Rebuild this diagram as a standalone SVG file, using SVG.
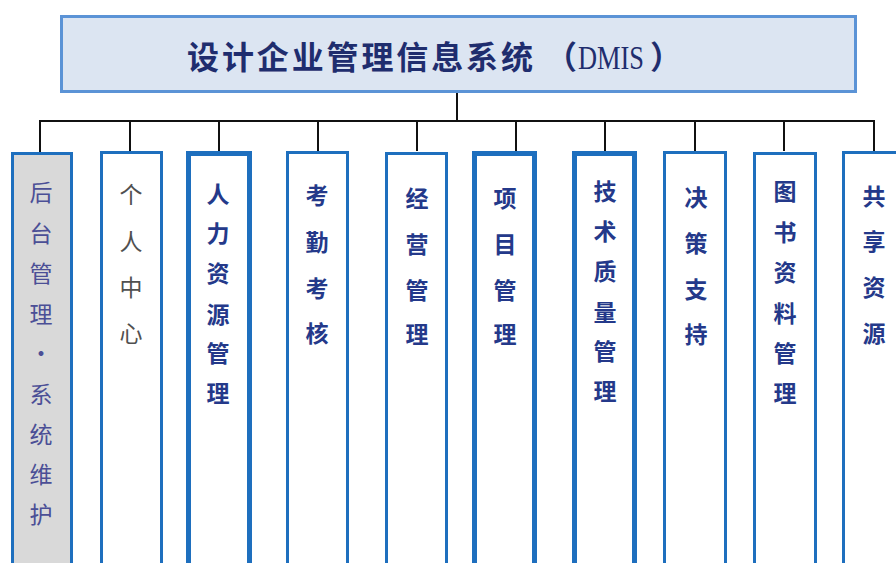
<svg xmlns="http://www.w3.org/2000/svg" width="896" height="563" viewBox="0 0 896 563">
<style>
.title{font-family:"Noto Sans CJK SC","Liberation Sans",sans-serif;font-weight:bold;font-size:32px;fill:#1f2d6e}
.lat{font-family:"Liberation Serif",serif;font-size:34px;font-weight:normal;fill:#1f2d6e}
.box{fill:#ffffff;stroke:#1e6fbe;stroke-width:3}
.thick{stroke-width:5}
.gray{fill:#d9d9d9}
.lbl{font-family:"Noto Sans CJK SC","Liberation Sans",sans-serif;font-size:23px;font-weight:bold;fill:#24398a;text-anchor:middle;dominant-baseline:central}
.lr{font-weight:normal;font-size:23px}
.c1{fill:#4b4f96}
.c2{fill:#505050}
.conn{stroke:#111111;stroke-width:2;fill:none}
</style>
<g id="title">
<rect x="61.5" y="16.5" width="794" height="75" fill="#dce5f2" stroke="#5b93d6" stroke-width="3"/>
<text x="187" y="69" class="title" textLength="346" lengthAdjust="spacing">设计企业管理信息系统</text>
<text y="69" class="title"><tspan x="545">（</tspan><tspan x="578" class="lat" textLength="66" lengthAdjust="spacingAndGlyphs">DMIS</tspan><tspan x="650">）</tspan></text>
</g>
<g id="connectors">
<path class="conn" d="M457 93V121M40 121H874M40 120V152M130 120V151M219 120V151M318 120V151M417 120V151M516 120V151M605 120V151M695 120V151M784 120V151M874 120V151"/>
</g>
<g id="n1">
<rect class="box gray" x="12.5" y="153.5" width="59" height="420"/>
<text class="lbl lr c1"><tspan x="41" y="191">后</tspan><tspan x="41" y="232">台</tspan><tspan x="41" y="272">管</tspan><tspan x="41" y="313">理</tspan><tspan x="41" y="352">•</tspan><tspan x="41" y="393">系</tspan><tspan x="41" y="433">统</tspan><tspan x="41" y="473">维</tspan><tspan x="41" y="513">护</tspan></text>
</g>
<g id="n2">
<rect class="box" x="101.5" y="152.5" width="60" height="420"/>
<text class="lbl lr c2"><tspan x="131" y="193">个</tspan><tspan x="131" y="240">人</tspan><tspan x="131" y="286">中</tspan><tspan x="131" y="332">心</tspan></text>
</g>
<g id="n3">
<rect class="box thick" x="188.5" y="153.5" width="61" height="420"/>
<text class="lbl"><tspan x="218" y="193">人</tspan><tspan x="218" y="232">力</tspan><tspan x="218" y="272">资</tspan><tspan x="218" y="313">源</tspan><tspan x="218" y="352">管</tspan><tspan x="218" y="392">理</tspan></text>
</g>
<g id="n4">
<rect class="box" x="287.5" y="152.5" width="60" height="420"/>
<text class="lbl"><tspan x="317" y="194">考</tspan><tspan x="317" y="241">勤</tspan><tspan x="317" y="287">考</tspan><tspan x="317" y="332">核</tspan></text>
</g>
<g id="n5">
<rect class="box" x="386.5" y="153.5" width="60" height="420"/>
<text class="lbl"><tspan x="417" y="197">经</tspan><tspan x="417" y="243">营</tspan><tspan x="417" y="289">管</tspan><tspan x="417" y="333">理</tspan></text>
</g>
<g id="n6">
<rect class="box thick" x="474.5" y="153.5" width="60" height="420"/>
<text class="lbl"><tspan x="505" y="197">项</tspan><tspan x="505" y="243">目</tspan><tspan x="505" y="289">管</tspan><tspan x="505" y="333">理</tspan></text>
</g>
<g id="n7">
<rect class="box thick" x="574.5" y="153.5" width="60" height="420"/>
<text class="lbl"><tspan x="605" y="190">技</tspan><tspan x="605" y="230">术</tspan><tspan x="605" y="270">质</tspan><tspan x="605" y="311">量</tspan><tspan x="605" y="350">管</tspan><tspan x="605" y="390">理</tspan></text>
</g>
<g id="n8">
<rect class="box" x="664.5" y="152.5" width="61" height="420"/>
<text class="lbl"><tspan x="696" y="196">决</tspan><tspan x="696" y="242">策</tspan><tspan x="696" y="288">支</tspan><tspan x="696" y="333">持</tspan></text>
</g>
<g id="n9">
<rect class="box" x="754.5" y="153.5" width="61" height="420"/>
<text class="lbl"><tspan x="785" y="190">图</tspan><tspan x="785" y="231">书</tspan><tspan x="785" y="271">资</tspan><tspan x="785" y="312">料</tspan><tspan x="785" y="352">管</tspan><tspan x="785" y="392">理</tspan></text>
</g>
<g id="n10">
<rect class="box" x="843.5" y="152.5" width="61" height="420"/>
<text class="lbl"><tspan x="874" y="195">共</tspan><tspan x="874" y="240">享</tspan><tspan x="874" y="286">资</tspan><tspan x="874" y="332">源</tspan></text>
</g>
</svg>
